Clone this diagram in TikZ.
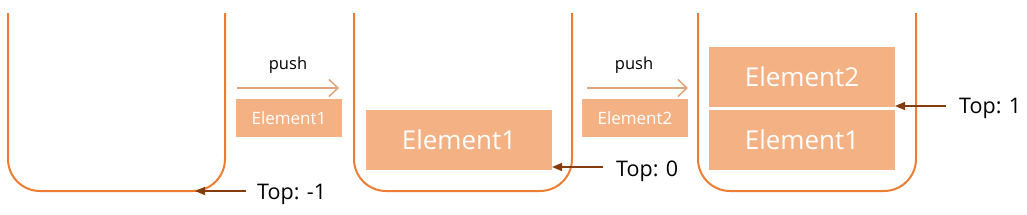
\documentclass[tikz,border=0pt]{standalone}
\usepackage{fontspec}
\setmainfont{Open Sans}
\usetikzlibrary{arrows.meta}
\definecolor{cont}{HTML}{ED7D31}
\definecolor{boxf}{HTML}{F4B183}
\definecolor{pushc}{HTML}{DDA47E}
\definecolor{topc}{HTML}{843C0C}
\tikzset{
  container/.style={draw=cont, line width=2pt, rounded corners=32pt},
  bigbox/.style={fill=boxf, text=white, minimum width=186pt, minimum height=60pt, inner sep=0pt, font=\fontsize{26}{30}\selectfont},
  smallbox/.style={fill=boxf, text=white, minimum width=106pt, minimum height=38pt, inner sep=0pt, font=\fontsize{17}{20}\selectfont},
  pushlabel/.style={inner sep=0pt, font=\fontsize{16.5}{20}\selectfont},
  pusharrow/.style={draw=pushc, line width=2pt, -{Straight Barb[length=9pt,width=17pt,line width=1.5pt]}},
  toplabel/.style={anchor=base west, inner sep=0pt, font=\fontsize{21.5}{25}\selectfont},
  toparrow/.style={draw=topc, line width=1.4pt, -{Triangle[length=10pt,width=8pt]}}
}
\begin{document}
\begin{tikzpicture}[x=1pt,y=-1pt]
\useasboundingbox (0,0) rectangle (1027,214);
% containers
\draw[container] (8,13) -- (8,191) -- (225,191) -- (225,13);
\draw[container] (354,13) -- (354,191) -- (572,191) -- (572,13);
\draw[container] (698,13) -- (698,191) -- (916,191) -- (916,13);
% elements
\node[bigbox] (s2e1) at (459,140) {Element1};
\node[bigbox] (s3e2) at (802,77) {Element2};
\node[bigbox] (s3e1) at (802,140) {Element1};
\node[smallbox] (n1) at (289,118) {Element1};
\node[smallbox] (n2) at (635,118) {Element2};
% push
\node[pushlabel] (p1) at (288,65) {push};
\node[pushlabel] (p2) at (634,65) {push};
\coordinate (pa1s) at (237,88);
\coordinate (pa1e) at (339,88);
\coordinate (pa2s) at (587,88);
\coordinate (pa2e) at (688,88);
\draw[pusharrow] (pa1s) -- (pa1e);
\draw[pusharrow] (pa2s) -- (pa2e);
% top labels
\node[toplabel] (t1) at (257,199) {Top: -1};
\node[toplabel] (t2) at (616,176) {Top: 0};
\node[toplabel] (t3) at (959,113) {Top: 1};
\coordinate (tip1) at (195,191);
\coordinate (tip2) at (552,167);
\coordinate (tip3) at (895,106);
\draw[toparrow] ([xshift=-11pt]t1.west |- tip1) -- (tip1);
\draw[toparrow] ([xshift=-13pt]t2.west |- tip2) -- (tip2);
\draw[toparrow] ([xshift=-13pt]t3.west |- tip3) -- (tip3);
\end{tikzpicture}
\end{document}
